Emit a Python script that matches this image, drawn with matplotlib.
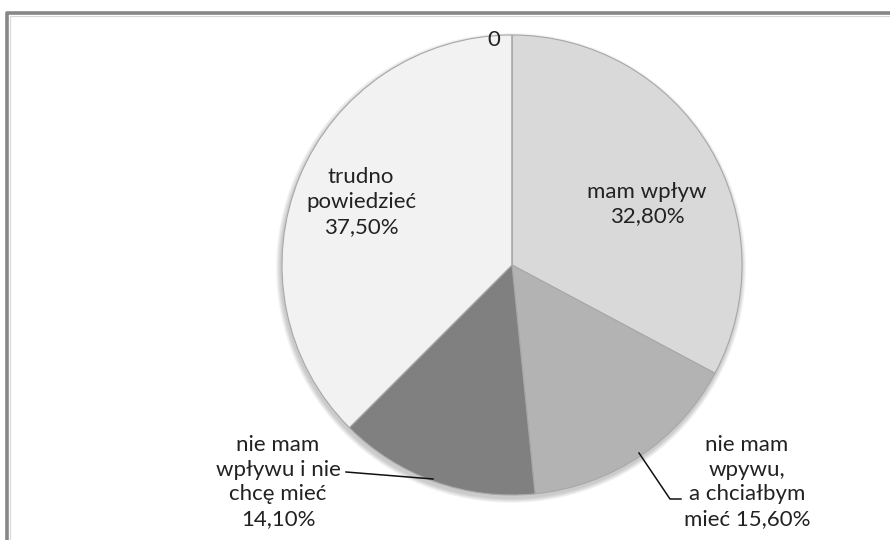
import matplotlib.pyplot as plt
from matplotlib.patches import Circle

labels = ['mam wpływ', 'nie mam\nwpywu,\na chciałbym\nmieć', 'nie mam\nwpływu i nie\nchcę mieć', 'trudno\npowiedzieć', '']
values = [32.8, 15.6, 14.1, 37.5, 0.0]
colors = ['#d9d9d9', '#b3b3b3', '#808080', '#f2f2f2', '#ffffff']

W, H = 890, 540
plt.rcParams['font.family'] = ['Lato', 'DejaVu Sans']

fig = plt.figure(figsize=(W / 100, H / 100), dpi=100)
ax = fig.add_axes([0, 0, 1, 1])


def Y(y):
    # picture rows run downward, axes run upward
    return H - y


# chart frame, cut off at the right and bottom
ax.plot([7, 7, W + 5], [-5, Y(13), Y(13)], color='#878787', lw=2.6, solid_capstyle='butt')
ax.plot([9.5, 9.5, W + 5], [-5, Y(15.5), Y(15.5)], color='#d8d8d8', lw=0.8)

cx, cy, r = 512, Y(265), 230

# soft shadow under the pie
for i in range(6):
    ax.add_patch(Circle((cx - 1, cy - 3), r + 1 + i * 0.8, color='#000000', alpha=0.035, lw=0, zorder=1))

wedges, _ = ax.pie(values, colors=colors, startangle=90, counterclock=False,
                   center=(cx, cy), radius=r, frame=True,
                   wedgeprops=dict(edgecolor='#a8a8a8', linewidth=0.8, zorder=2))
ax.set_xlim(0, W)
ax.set_ylim(0, H)
ax.set_aspect('equal')
ax.axis('off')


def pct(v):
    return f'{v:.2f}%'.replace('.', ',')


txt = dict(fontsize=16, color='#222222', ha='center', va='center', linespacing=1.3, zorder=5)
ax.text(647, Y(204), f'{labels[0]}\n{pct(values[0])}', **txt)
ax.text(361, Y(202), f'{labels[3]}\n{pct(values[3])}', **txt)
ax.text(747, Y(482), f'{labels[1]} {pct(values[1])}', **txt)
ax.text(278, Y(482), f'{labels[2]}\n{pct(values[2])}', **txt)
ax.text(500, Y(40), f'{values[4]:.0f}', fontsize=16, color='#222222', ha='right', va='center', zorder=5)

# leader lines
ax.plot([346, 433], [Y(472), Y(479)], color='#111111', lw=1.1, zorder=4)
ax.plot([639, 670, 681], [Y(453), Y(499), Y(499)], color='#111111', lw=1.1, zorder=4)

fig.savefig('out.png', dpi=100)
